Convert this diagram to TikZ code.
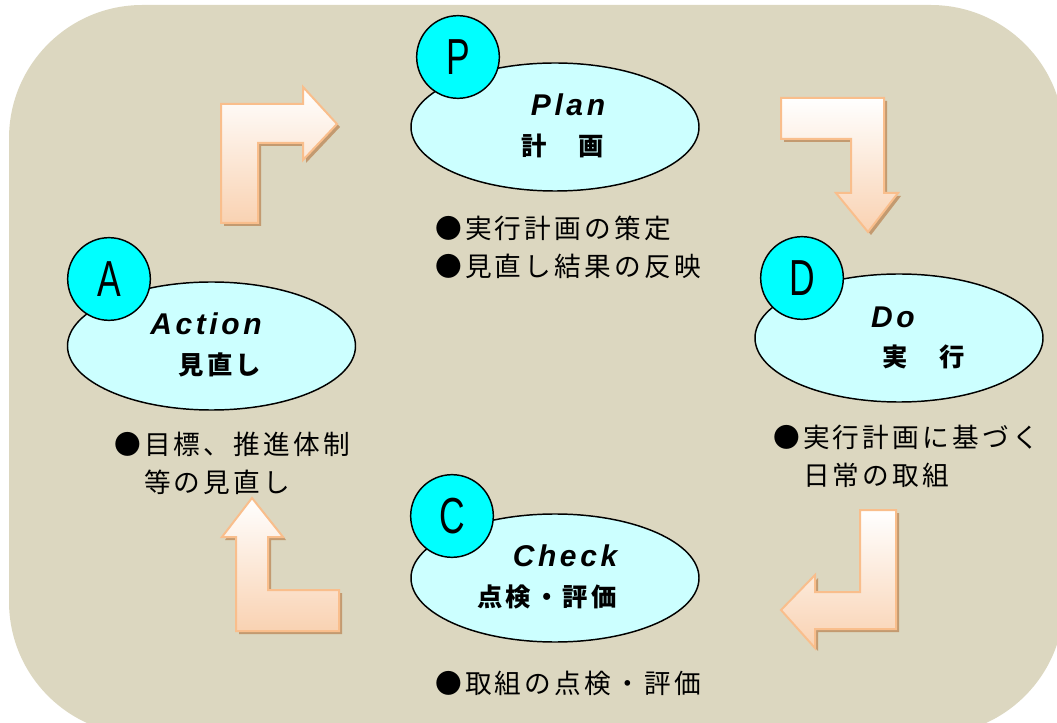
\documentclass[tikz,border=0pt]{standalone}
\usepackage{fontspec}
\setmainfont{Liberation Sans}
\newfontfamily\enfont{Liberation Sans}[LetterSpace=12]
\newfontfamily\jpfont{Noto Sans CJK JP}[LetterSpace=12]
\usetikzlibrary{positioning, shapes.geometric, calc}
\definecolor{bgtan}{HTML}{DCD7C0}
\definecolor{paleCyan}{HTML}{CCFFFF}
\definecolor{aqua}{HTML}{00FFFF}
\definecolor{peach}{HTML}{F9D2B2}
\definecolor{peachline}{HTML}{F9BE8C}
\definecolor{shadowbrown}{HTML}{C39A70}
% bent block arrow with its shadow
\newcommand\turnarrow[1]{\fill[turnshadow] #1; \path[turn] #1;}

\begin{document}
\begin{tikzpicture}[x=0.75pt, y=-0.75pt,
    phase/.style={draw, ellipse, fill=paleCyan, line width=1.1pt, minimum width=216pt, minimum height=96pt, inner sep=0pt},
    tag/.style={draw, circle, fill=aqua, line width=1.1pt, minimum size=62pt, inner sep=0pt, font=\fontsize{38}{38}\selectfont},
    en/.style={font=\enfont\bfseries\itshape\fontsize{22.5}{27}\selectfont, inner sep=0pt},
    jpb/.style={font=\jpfont\bfseries\fontsize{19}{22}\selectfont, inner sep=0pt},
    note/.style={font=\jpfont\fontsize{20}{28.5}\selectfont, align=left, anchor=west, inner sep=0pt},
    turn/.style={draw=peachline, top color=white, bottom color=peach, line width=1.5pt},
    turnshadow/.style={fill=shadowbrown, shift={(3,3)}},
]
    \useasboundingbox (0,0) rectangle (1057,723);
    \clip (0,0) rectangle (1057,723);
    \fill[bgtan, rounded corners=100] (9,5) rectangle (1064,735);

    % cycle arrows
    \turnarrow{(221,223) -- (221,104) -- (303,104) -- (303,87) -- (337,124) -- (303,160) -- (303,143) -- (258,143) -- (258,223) -- cycle}
    \turnarrow{(781,98) -- (884,98) -- (884,193) -- (898,193) -- (868,232) -- (836,193) -- (851,193) -- (851,139) -- (781,139) -- cycle}
    \turnarrow{(860,510) -- (896,510) -- (896,629) -- (815,629) -- (815,648) -- (781,610) -- (815,575) -- (815,592) -- (860,592) -- cycle}
    \turnarrow{(252,498) -- (283,537) -- (268,537) -- (268,590) -- (339,590) -- (339,631) -- (236,631) -- (236,537) -- (222,537) -- cycle}

    % phases
    \node[phase] (plan) at (555,127) {};
    \node[phase] (do) at (899,338) {};
    \node[phase] (check) at (555,578) {};
    \node[phase] (act) at (211.5,346) {};

    \node[tag] (p) at (458,57) {\scalebox{0.7}[1]{P}};
    \node[tag] (d) at (802,278) {\scalebox{0.7}[1]{D}};
    \node[tag] (c) at (452,516) {\scalebox{0.7}[1]{C}};
    \node[tag] (a) at (109,279) {\scalebox{0.7}[1]{A}};

    \node[en] (planen) at (568,105) {Plan};
    \node[jpb] (planjp) at (563,146) {計　画};
    \node[en] (doen) at (893,317) {Do};
    \node[jpb] (dojp) at (924,357) {実　行};
    \node[en] (checken) at (565,556) {Check};
    \node[jpb] (checkjp) at (547,597) {点検・評価};
    \node[en] (acten) at (206,324) {Action};
    \node[jpb] (actjp) at (220,365) {見直し};

    % notes under each phase
    \node[note] (plannote) at (435,247) {●実行計画の策定\\●見直し結果の反映};
    \node[note] (donote) at (773,456) {●実行計画に基づく\\　日常の取組};
    \node[note] (checknote) at (435,683) {●取組の点検・評価};
    \node[note] (actnote) at (114,463) {●目標、推進体制\\　等の見直し};
\end{tikzpicture}
\end{document}
